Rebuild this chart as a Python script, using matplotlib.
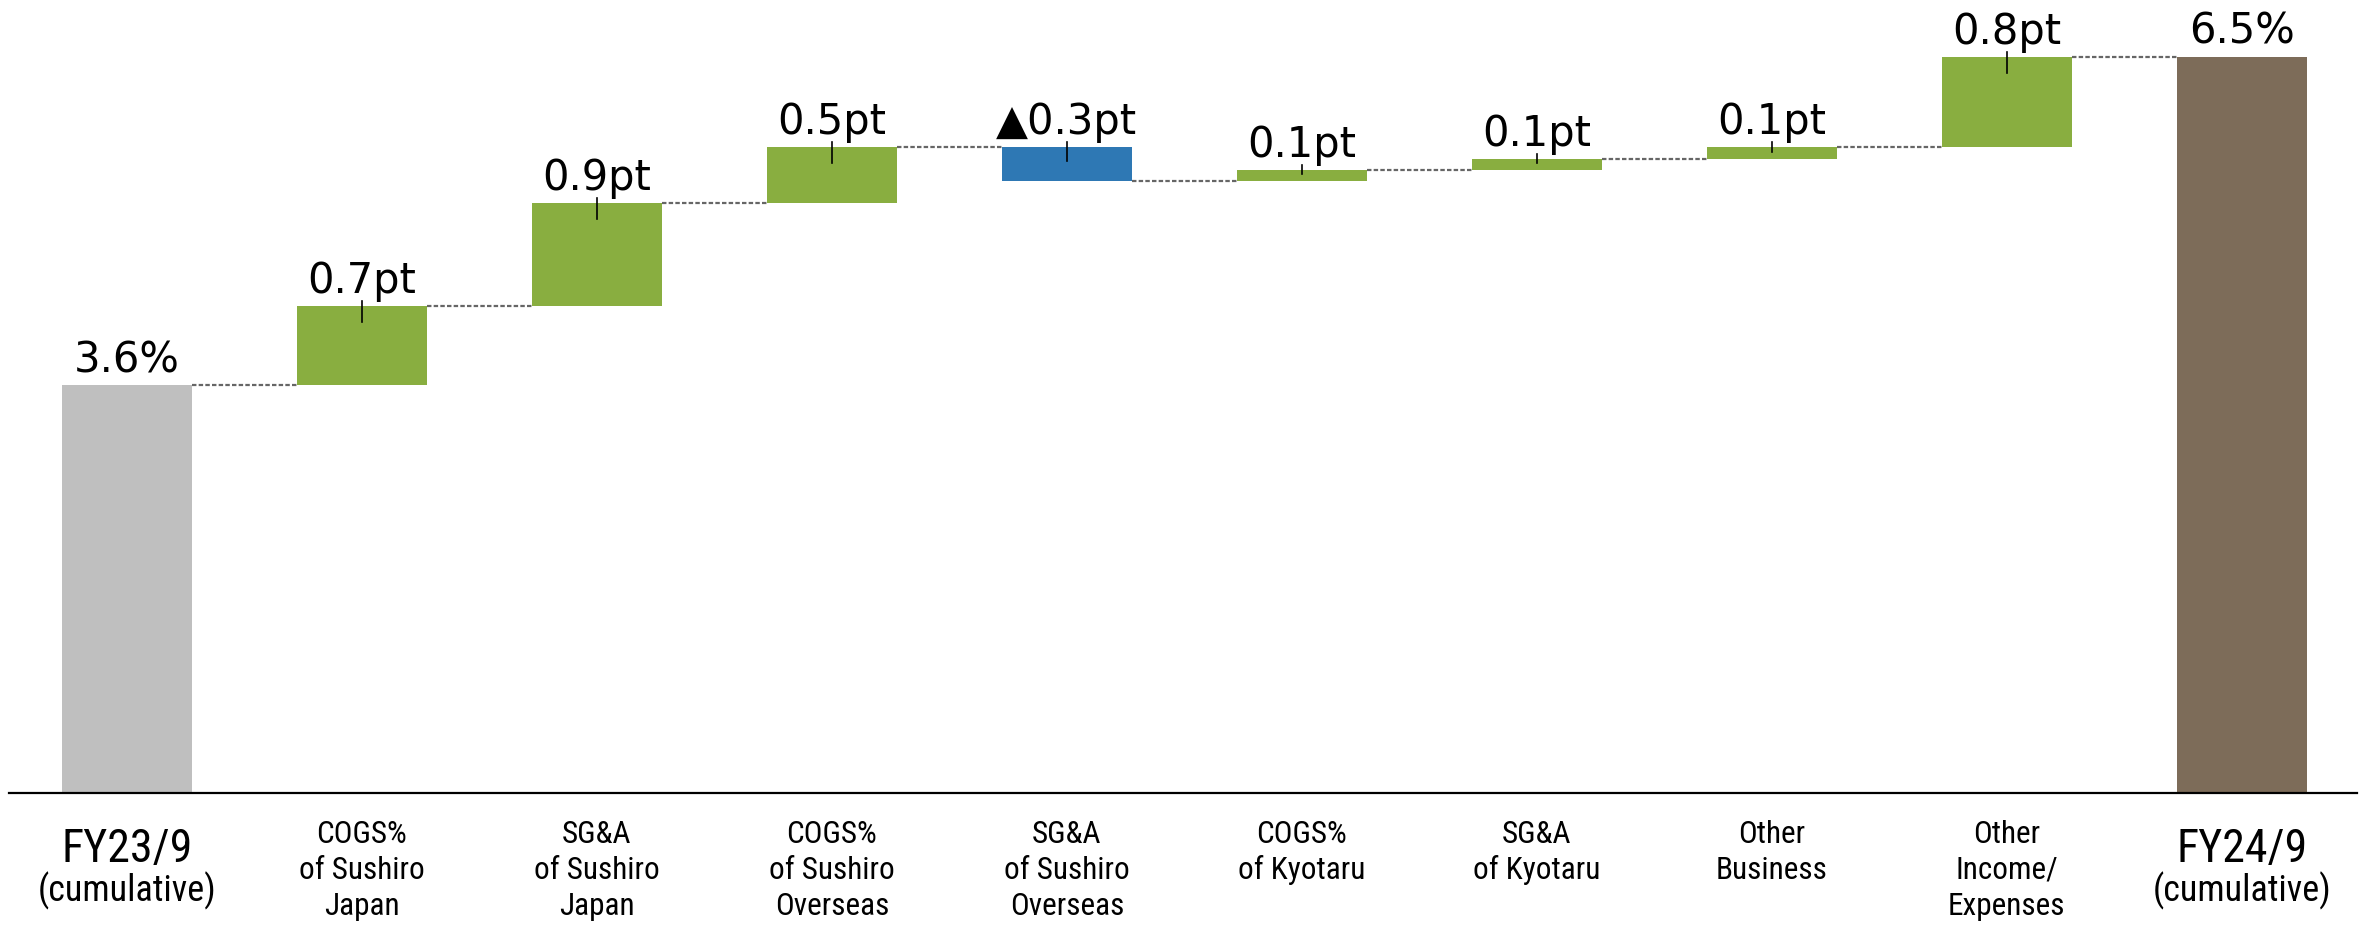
import matplotlib
matplotlib.use("Agg")
import matplotlib.pyplot as plt

# ---- data ----
categories = [
    "FY23/9\n(cumulative)",
    "COGS%\nof Sushiro\nJapan",
    "SG&A\nof Sushiro\nJapan",
    "COGS%\nof Sushiro\nOverseas",
    "SG&A\nof Sushiro\nOverseas",
    "COGS%\nof Kyotaru",
    "SG&A\nof Kyotaru",
    "Other\nBusiness",
    "Other\nIncome/\nExpenses",
    "FY24/9\n(cumulative)",
]
start_value = 3.6
deltas = [0.70, 0.91, 0.49, -0.30, 0.10, 0.10, 0.10, 0.80]
end_value = 6.5

# ---- style ----
C_START = "#BFBFBF"
C_END = "#7D6C59"
C_POS = "#89AE40"
C_NEG = "#2E78B4"
CAT_FONT = ["Roboto Condensed", "Archivo Narrow", "Liberation Sans", "DejaVu Sans"]
VAL_FONT = ["DejaVu Sans"]

W, H, DPI = 2376, 927, 100
fig = plt.figure(figsize=(W / DPI, H / DPI), dpi=DPI)
ax = fig.add_axes([9 / W, (H - 793) / H, (2357 - 9) / W, 793 / H])
ax.set_xlim(-0.502, 9.49)
ax.set_ylim(0, 7.0)
ax.axis("off")

bw = 0.555
n = len(categories)

# cumulative levels
levels = [start_value]
for d in deltas:
    levels.append(levels[-1] + d)

# total bars
ax.bar(0, start_value, width=bw, color=C_START, zorder=2)
ax.bar(n - 1, end_value, width=bw, color=C_END, zorder=2)

# delta bars
for i, d in enumerate(deltas, start=1):
    base = levels[i - 1]
    col = C_POS if d >= 0 else C_NEG
    ax.bar(i, d, bottom=base, width=bw, color=col, zorder=2)

# connectors
for i in range(n - 1):
    y = levels[i] if i < len(levels) else end_value
    ax.plot([i + bw / 2, i + 1 - bw / 2], [y, y], color="#666666", lw=1.6,
            linestyle=(0, (2.0, 1.0)), zorder=1)

# baseline axis line
ax.plot([-0.502, 9.49], [0, 0], color="black", lw=1.6, zorder=3, clip_on=False)

# value labels
ax.text(0, start_value + 0.115, f"{start_value:.1f}%", ha="center", va="baseline",
        fontsize=30, family=VAL_FONT)
ax.text(n - 1, end_value + 0.115, f"{end_value:.1f}%", ha="center", va="baseline",
        fontsize=30, family=VAL_FONT)
for i, d in enumerate(deltas, start=1):
    top = max(levels[i - 1], levels[i])
    h = abs(d)
    lab = (f"{d:.1f}pt" if d >= 0 else f"\u25B2{-d:.1f}pt")
    ax.text(i, top + 0.115, lab, ha="center", va="baseline", fontsize=30,
            family=VAL_FONT)
    ax.plot([i, i], [top + 0.045, top - min(0.14, 0.4 * h)], color="black",
            lw=1.2, zorder=4)

# category labels
line_step = 0.318
for i, cat in enumerate(categories):
    if i == 0 or i == n - 1:
        first, rest = cat.split("\n", 1)
        ax.text(i, -0.61, first, ha="center", va="baseline", fontsize=33,
                family=CAT_FONT, clip_on=False)
        ax.text(i, -0.955, rest, ha="center", va="baseline", fontsize=26,
                family=CAT_FONT, clip_on=False)
    else:
        for k, line in enumerate(cat.split("\n")):
            ax.text(i, -0.441 - k * line_step, line, ha="center", va="baseline",
                    fontsize=22.5, family=CAT_FONT, clip_on=False)

fig.savefig("out.png", dpi=DPI)
